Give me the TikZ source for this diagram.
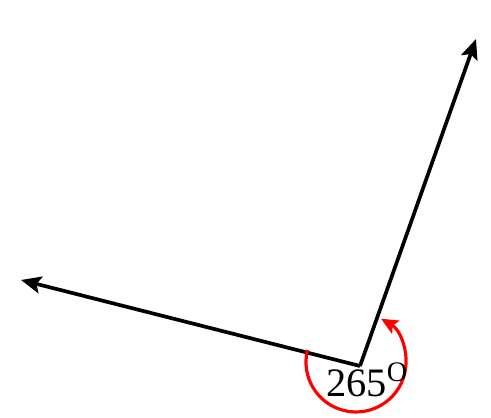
\documentclass[tikz,border=0pt]{standalone}
\usepackage{fontspec}
\setmainfont{Liberation Serif}
\usetikzlibrary{arrows.meta}
\begin{document}
\begin{tikzpicture}[x=0.02cm,y=0.02cm,
  ray/.style={line width=2.1pt,-{Stealth[length=0.4cm,width=0.34cm,inset=0.08cm]}},
  anglearc/.style={red,line width=1.8pt,-{Stealth[length=0.34cm,width=0.3cm,inset=0.07cm]}}]
\useasboundingbox (0,0) rectangle (491,418);
\coordinate (V) at (360,52);
\coordinate (L) at (21,138);
\coordinate (R) at (476,379);
\coordinate (C) at (356,56);
\draw[ray] (V) -- (L);
\draw[ray] (V) -- (R);
\draw[anglearc] (C) ++(166:50) arc[start angle=166, end angle=420, radius=1.0cm];
\node[anchor=base west,inner sep=0pt,font=\fontsize{23}{28}\selectfont] (lab) at (326,21) {265\textsuperscript{O}};
\end{tikzpicture}
\end{document}
